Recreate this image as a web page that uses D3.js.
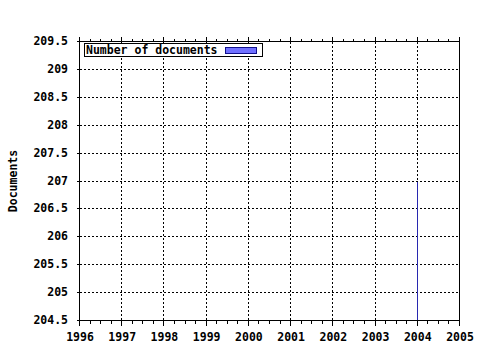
<!DOCTYPE html>
<html><head><meta charset="utf-8">
<script src="https://cdn.jsdelivr.net/npm/d3@7"></script>
<style>
html,body{margin:0;padding:0;background:#fff;}
text{font-family:"DejaVu Sans Mono",monospace;font-weight:bold;font-size:11.5px;fill:#000;}
</style></head>
<body>
<script>
const years = [2004];
const documents = [207];
const xTicks = [1996,1997,1998,1999,2000,2001,2002,2003,2004,2005];
const yTicks = [204.5,205,205.5,206,206.5,207,207.5,208,208.5,209,209.5];
const yTickLabels = ["204.5","205","205.5","206","206.5","207","207.5","208","208.5","209","209.5"];
const seriesName = "Number of documents";
const yTitle = "Documents";

const W=480,H=350;
const L=79,R=459,T=41,B=320;
const svg=d3.select("body").append("svg").attr("width",W).attr("height",H);
const x=d3.scaleLinear().domain([1996,2005]).range([L,R]);
const y=d3.scaleLinear().domain([204.5,209.5]).range([B,T]);
const g=svg.append("g").attr("transform","translate(0.5,0.5)").attr("shape-rendering","crispEdges");

// grid
g.selectAll(".vg").data(xTicks.slice(1,-1)).enter().append("line")
 .attr("x1",d=>Math.round(x(d))).attr("x2",d=>Math.round(x(d))).attr("y1",T).attr("y2",B)
 .attr("stroke","#000").attr("stroke-dasharray","2,2");
g.selectAll(".hg").data(yTicks.slice(1,-1)).enter().append("line")
 .attr("y1",d=>Math.round(y(d))).attr("y2",d=>Math.round(y(d))).attr("x1",L).attr("x2",R)
 .attr("stroke","#000").attr("stroke-dasharray","2,2");

// bars
g.selectAll(".bar").data(years.map((yr,i)=>({yr,v:documents[i]}))).enter().append("line")
 .attr("x1",d=>Math.round(x(d.yr))).attr("x2",d=>Math.round(x(d.yr)))
 .attr("y1",d=>Math.round(y(d.v))).attr("y2",B)
 .attr("stroke","#2828b0");

// minor ticks
const minor=d3.range(1996,2005.001,0.25);
g.selectAll(".mt").data(minor).enter().append("line")
 .attr("x1",d=>Math.round(x(d))).attr("x2",d=>Math.round(x(d))).attr("y1",T).attr("y2",T-3).attr("stroke","#000");
g.selectAll(".mb").data(minor).enter().append("line")
 .attr("x1",d=>Math.round(x(d))).attr("x2",d=>Math.round(x(d))).attr("y1",B).attr("y2",B+3).attr("stroke","#000");
g.selectAll(".Mb").data(xTicks).enter().append("line")
 .attr("x1",d=>Math.round(x(d))).attr("x2",d=>Math.round(x(d))).attr("y1",B).attr("y2",B+5).attr("stroke","#000");
g.selectAll(".Mt").data(xTicks).enter().append("line")
 .attr("x1",d=>Math.round(x(d))).attr("x2",d=>Math.round(x(d))).attr("y1",T).attr("y2",T-5).attr("stroke","#000");
g.selectAll(".yl").data(yTicks).enter().append("line")
 .attr("y1",d=>Math.round(y(d))).attr("y2",d=>Math.round(y(d))).attr("x1",L-3).attr("x2",L).attr("stroke","#000");

// frame
g.append("rect").attr("x",L).attr("y",T).attr("width",R-L).attr("height",B-T).attr("fill","none").attr("stroke","#000");

// labels
svg.selectAll(".ytl").data(yTicks).enter().append("text")
 .attr("x",68).attr("y",d=>Math.round(y(d))+4).attr("text-anchor","end")
 .text((d,i)=>yTickLabels[i]);
svg.selectAll(".xtl").data(xTicks).enter().append("text")
 .attr("x",d=>x(d)+1).attr("y",341).attr("text-anchor","middle").text(d=>d);
svg.append("text").attr("transform","translate(17,181) rotate(-90)").attr("text-anchor","middle").text(yTitle);

// legend
const lg=svg.append("g").attr("shape-rendering","crispEdges");
lg.append("rect").attr("x",84.5).attr("y",43.5).attr("width",178).attr("height",13).attr("fill","#fff").attr("stroke","#000");
lg.append("text").attr("x",86).attr("y",54).text(seriesName);
lg.append("rect").attr("x",225.5).attr("y",47.5).attr("width",31).attr("height",6).attr("fill","#7070ff").attr("stroke","#10108c");
</script>
</body></html>
